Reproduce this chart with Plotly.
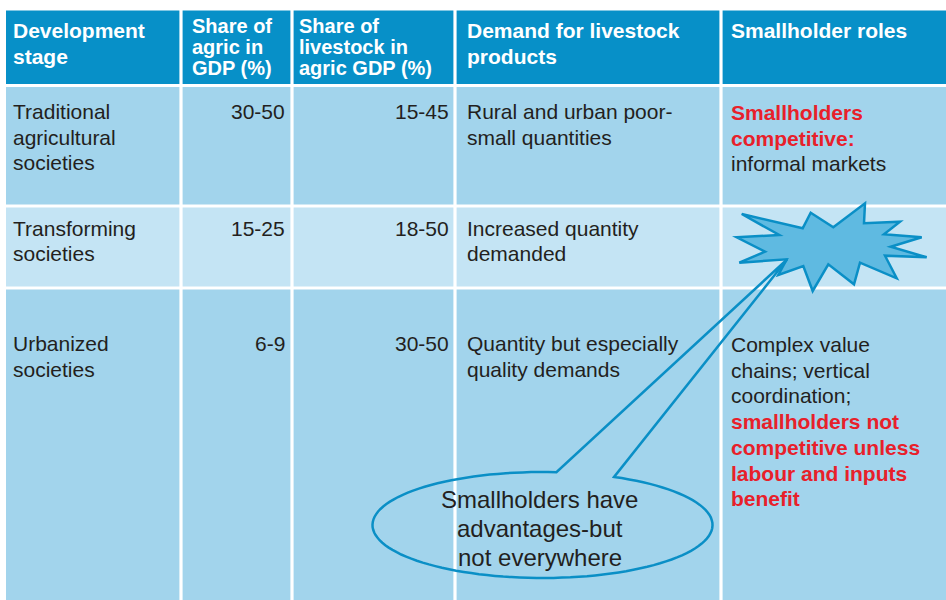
import numpy as np
import plotly.graph_objects as go

# ---------------- data ----------------
headers = [
    ["Development", "stage"],
    ["Share of", "agric in", "GDP (%)"],
    ["Share of", "livestock in", "agric GDP (%)"],
    ["Demand for livestock", "products"],
    ["Smallholder roles"],
]
stages = [
    ["Traditional", "agricultural", "societies"],
    ["Transforming", "societies"],
    ["Urbanized", "societies"],
]
agric_gdp_share = ["30-50", "15-25", "6-9"]
livestock_share = ["15-45", "18-50", "30-50"]
demand = [
    ["Rural and urban poor-", "small quantities"],
    ["Increased quantity", "demanded"],
    ["Quantity but especially", "quality demands"],
]
# (text line, emphasised in red)
roles = [
    [("Smallholders", True), ("competitive:", True), ("informal markets", False)],
    [],
    [("Complex value", False), ("chains; vertical", False), ("coordination;", False),
     ("smallholders not", True), ("competitive unless", True),
     ("labour and inputs", True), ("benefit", True)],
]
callout_text = ["Smallholders have", "advantages-but", "not everywhere"]

# ---------------- style / layout ----------------
W, H = 946, 600
FONT = "Liberation Sans, Arial, Helvetica, sans-serif"
HEAD_BG = "#0790c8"
ROW_BG = ["#a2d4ec", "#c4e4f4", "#a2d4ec"]
TXT = "#231f20"
RED = "#e8202a"
LINE = "#0a8fc6"
STAR_FILL = "#5fbae1"

col_edges = [6, 181, 292, 455, 721, 952]
row_edges = [10.5, 85.5, 206, 288, 606]
GAP = 1.6

fig = go.Figure()
shapes = []
annotations = []

for r in range(4):
    for c in range(5):
        x0 = col_edges[c] + (GAP if c > 0 else 0)
        x1 = col_edges[c + 1] - GAP
        y0 = row_edges[r] + (GAP if r > 0 else 0)
        y1 = row_edges[r + 1] - GAP
        color = HEAD_BG if r == 0 else ROW_BG[r - 1]
        shapes.append(dict(type="rect", xref="x", yref="y", x0=x0, x1=x1, y0=y0, y1=y1,
                           fillcolor=color, line=dict(width=0), layer="below"))


def add_lines(lines, x, y0, dy, anchor="left", size=21, color=TXT, bold=False):
    for i, item in enumerate(lines):
        if isinstance(item, tuple):
            t, emph = item
            col = RED if emph else color
            b = emph or bold
        else:
            t, col, b = item, color, bold
        annotations.append(dict(
            x=x, y=y0 + i * dy, xref="x", yref="y", text=f"<b>{t}</b>" if b else t,
            showarrow=False, xanchor=anchor, yanchor="middle", borderpad=0,
            font=dict(family=FONT, size=size, color=col)))


# header
text_left = [12, 191, 298, 466, 730]
add_lines(headers[0], text_left[0], 30.5, 26, size=21, color="white", bold=True)
add_lines(headers[1], text_left[1], 25.5, 21.2, size=20, color="white", bold=True)
add_lines(headers[2], text_left[2], 25.5, 21.2, size=20, color="white", bold=True)
add_lines(headers[3], text_left[3], 30.5, 26, size=21, color="white", bold=True)
add_lines(headers[4], text_left[4], 30.5, 26, size=21, color="white", bold=True)

row_first = [111.5, 228, 343.5]
DY = 25.7
for i in range(3):
    y = row_first[i]
    add_lines(stages[i], text_left[0], y, DY)
    add_lines([agric_gdp_share[i]], 286, y, DY, anchor="right")
    add_lines([livestock_share[i]], 449.5, y, DY, anchor="right")
    add_lines(demand[i], text_left[3], y, DY)
    if roles[i]:
        add_lines(roles[i], text_left[4], y + 1, DY)

# star burst (decoration)
star = [(741.7, 214), (802.7, 228.3), (810.7, 212.7), (833.3, 227.3), (865, 203.3),
        (864, 223.3), (900, 221.7), (884, 234.3), (921.7, 237.3), (890.7, 246.7),
        (926.7, 257.3), (885, 255.7), (896.7, 278.3), (860, 262.7), (854, 284.3),
        (828.3, 264.3), (812.7, 291), (803.3, 266), (778.3, 275), (786.7, 259.3),
        (739.3, 262.7), (765, 251.7), (736.7, 237.3), (779.3, 235)]
path = "M " + " L ".join(f"{x},{y}" for x, y in star) + " Z"
shapes.append(dict(type="path", xref="x", yref="y", path=path, fillcolor=STAR_FILL,
                   line=dict(color=LINE, width=2.5)))

# callout ellipse with tail
cx, cy, rx, ry = 542.5, 525, 170, 53
a_right = np.arctan2((475 - cy) / ry, (617 - cx) / rx)
a_left = np.arctan2((470 - cy) / ry, (557 - cx) / rx) + 2 * np.pi
ang = np.linspace(a_right, a_left, 120)
pts = [(cx + rx * np.cos(a), cy + ry * np.sin(a)) for a in ang]
pts += [(787, 259.5)]
cpath = "M " + " L ".join(f"{x:.1f},{y:.1f}" for x, y in pts) + " Z"
shapes.append(dict(type="path", xref="x", yref="y", path=cpath,
                   line=dict(color=LINE, width=2.5)))

for i, t in enumerate(callout_text):
    annotations.append(dict(x=539.5, y=499.5 + i * 29, xref="x", yref="y", text=t,
                            showarrow=False, xanchor="center", yanchor="middle",
                            font=dict(family=FONT, size=24, color=TXT)))

fig.update_layout(
    width=W, height=H, margin=dict(l=0, r=0, t=0, b=0),
    paper_bgcolor="white", plot_bgcolor="white",
    xaxis=dict(range=[0, W], visible=False, fixedrange=True),
    yaxis=dict(range=[H, 0], visible=False, fixedrange=True),
    shapes=shapes, annotations=annotations, showlegend=False,
)

fig.write_html("out.html", config={"displayModeBar": False},
               post_script="document.body.style.margin='0';")
